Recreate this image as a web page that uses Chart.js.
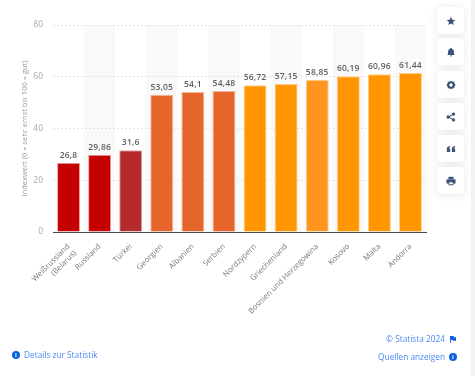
<!DOCTYPE html>
<html>
<head>
<meta charset="utf-8">
<script src="https://cdn.jsdelivr.net/npm/chart.js@4"></script>
<style>
  html, body { margin: 0; padding: 0; background: #fff; overflow: hidden; }
  body { width: 475px; height: 376px; position: relative; font-family: "Open Sans", sans-serif; }
  #chart { position: absolute; left: 0; top: 0; }
  .strip { position: absolute; left: 471px; top: 0; width: 4px; height: 376px; background: #f1f2f4; }
  .btn { position: absolute; left: 437px; width: 27px; height: 27px; background: #fff; border-radius: 4px;
         box-shadow: 0 1px 8px rgba(40, 60, 90, 0.12); display: flex; align-items: center; justify-content: center; }
  .btn svg { width: 10px; height: 10px; fill: #3c5378; }
  .link { position: absolute; font-size: 8.3px; color: #4d86f5; white-space: nowrap; line-height: 12px; }
  .dot { position: absolute; width: 8px; height: 8px; border-radius: 50%; background: #0b5fe0; color: #fff;
         font: bold 6px/8px "Open Sans", sans-serif; text-align: center; }
</style>
</head>
<body>
<canvas id="chart" width="475" height="376"></canvas>
<div class="strip"></div>

<div class="btn" style="top:7px"><svg viewBox="0 0 24 24"><path d="M12 2l3 7 7.500 .6-5.700 4.900 1.800 7.300L12 18l-6.600 3.800 1.800-7.300L1.500 9.600 9 9z"/></svg></div>
<div class="btn" style="top:38px"><svg viewBox="0 0 24 24"><path d="M12 2a2 2 0 0 1 2 2c3 1 5 3.500 5 7v5l2 3H3l2-3v-5c0-3.500 2-6 5-7a2 2 0 0 1 2-2zM9.500 20.500h5a2.500 2.500 0 0 1-5 0z"/></svg></div>
<div class="btn" style="top:71px"><svg viewBox="0 0 24 24"><path fill-rule="evenodd" d="M12 1l3 3 4.500-.5.500 4.500 3 4-3 4-.5 4.500-4.500-.5-3 3-3-3-4.500.5L4 16l-3-4 3-4 .5-4.500L9 4zM12 8a4 4 0 1 0 0 8 4 4 0 0 0 0-8z"/></svg></div>
<div class="btn" style="top:103px"><svg viewBox="0 0 24 24"><circle cx="18" cy="5" r="4"/><circle cx="18" cy="19" r="4"/><circle cx="5" cy="12" r="4"/><path d="M5 11l13-7 1 2-13 7zM6 11l13 7-1 2-13-7z"/></svg></div>
<div class="btn" style="top:135px"><svg viewBox="0 0 24 24"><path d="M2 19v-7c0-4 2-6 8-7v3c-2 .5-3 1.500-3 3h3v8zM14 19v-7c0-4 2-6 8-7v3c-2 .5-3 1.500-3 3h3v8z"/></svg></div>
<div class="btn" style="top:167px"><svg viewBox="0 0 24 24"><path d="M6 2h12v5H6zM3 8h18a2 2 0 0 1 2 2v8h-5v4H6v-4H1v-8a2 2 0 0 1 2-2zM8 15v5h8v-5z"/></svg></div>

<div class="dot" style="left:12px;top:351px">i</div>
<div class="link" style="left:24px;top:349px">Details zur Statistik</div>
<div class="link" style="right:30px;top:333px">© Statista 2024</div>
<svg style="position:absolute;left:450px;top:336px" width="6" height="7" viewBox="0 0 7 8"><path d="M0 0h1v8H0zM1 0h3l1 1.500h2v4H4L3 4.500H1z" fill="#0b5fe0"/></svg>
<div class="link" style="right:30px;top:351px">Quellen anzeigen</div>
<div class="dot" style="left:449px;top:353px">i</div>

<script>
const categories = [["Weißrussland", "(Belarus)"], "Russland", "Türkei", "Georgien", "Albanien", "Serbien",
  "Nordzypern", "Griechenland", "Bosnien und Herzegowina", "Kosovo", "Malta", "Andorra"];
const values = [26.8, 29.86, 31.6, 53.05, 54.1, 54.48, 56.72, 57.15, 58.85, 60.19, 60.96, 61.44];
const valueLabels = ["26,8", "29,86", "31,6", "53,05", "54,1", "54,48", "56,72", "57,15", "58,85", "60,19", "60,96", "61,44"];
const barColors = ["#c40000", "#c40000", "#b52a2c", "#e5652b", "#e5652b", "#e5652b",
  "#ff9500", "#ff9500", "#ff951f", "#ff9500", "#ff9500", "#ff9500"];
const barBorders = ["#eda3a3", "#eda3a3", "#e0a5a5", "#f5b999", "#f5b999", "#f5b999",
  "#ffcf8a", "#ffcf8a", "#ffcf8a", "#ffcf8a", "#ffcf8a", "#ffcf8a"];
const yTicks = [0, 20, 40, 60, 80];
const yTitle = "Indexwert (0 = sehr ernst bis 100 = gut)";

// shaded columns behind every second category
const bandPlugin = {
  id: "bands",
  beforeDraw(chart) {
    const { ctx, chartArea, scales } = chart;
    const step = scales.x.getPixelForValue(1) - scales.x.getPixelForValue(0);
    ctx.save();
    ctx.fillStyle = "#f9f9fa";
    categories.forEach((c, i) => {
      if (i % 2 === 1) {
        ctx.fillRect(scales.x.getPixelForValue(i) - step / 2, chartArea.top, step, chartArea.height);
      }
    });
    ctx.restore();
  }
};

const valueLabelPlugin = {
  id: "valueLabels",
  afterDatasetsDraw(chart) {
    const { ctx } = chart;
    ctx.save();
    ctx.font = "600 8.5px 'Open Sans', sans-serif";
    ctx.letterSpacing = "0.2px";
    ctx.fillStyle = "#5c5f63";
    ctx.textAlign = "center";
    ctx.textBaseline = "bottom";
    chart.getDatasetMeta(0).data.forEach((bar, i) => {
      ctx.fillText(valueLabels[i], bar.x, bar.y - 3);
    });
    ctx.restore();
  }
};

new Chart(document.getElementById("chart"), {
  type: "bar",
  data: {
    labels: categories,
    datasets: [{
      data: values,
      backgroundColor: barColors,
      borderColor: barBorders,
      borderWidth: { top: 1, left: 1, right: 1, bottom: 0 },
      barPercentage: 0.74,
      categoryPercentage: 1
    }]
  },
  options: {
    responsive: false,
    animation: false,
    layout: { padding: { top: 25, right: 49, left: 0, bottom: 0 } },
    plugins: { legend: { display: false }, tooltip: { enabled: false } },
    scales: {
      x: {
        afterFit(scale) { scale.height = 144; },
        grid: { display: false },
        border: { color: "#4a4a4a", width: 1 },
        ticks: {
          autoSkip: false,
          maxRotation: 45,
          minRotation: 45,
          padding: 2,
          color: "#77797c",
          font: { family: "'Open Sans', sans-serif", size: 7.8 }
        }
      },
      y: {
        min: 0,
        max: 80,
        afterFit(scale) { scale.width = 53; },
        afterBuildTicks(scale) { scale.ticks = yTicks.map(v => ({ value: v })); },
        border: { display: false, dash: [2, 2] },
        grid: { color: "#e4e4e4", lineWidth: 1, drawTicks: false },
        title: {
          display: true,
          text: yTitle,
          color: "#9a9a9a",
          padding: { top: 20, bottom: 0 },
          font: { family: "'Open Sans', sans-serif", size: 7.5 }
        },
        ticks: {
          padding: 10,
          color: "#a8a8a8",
          font: { family: "'Open Sans', sans-serif", size: 8.5 }
        }
      }
    }
  },
  plugins: [bandPlugin, valueLabelPlugin]
});
</script>
</body>
</html>
